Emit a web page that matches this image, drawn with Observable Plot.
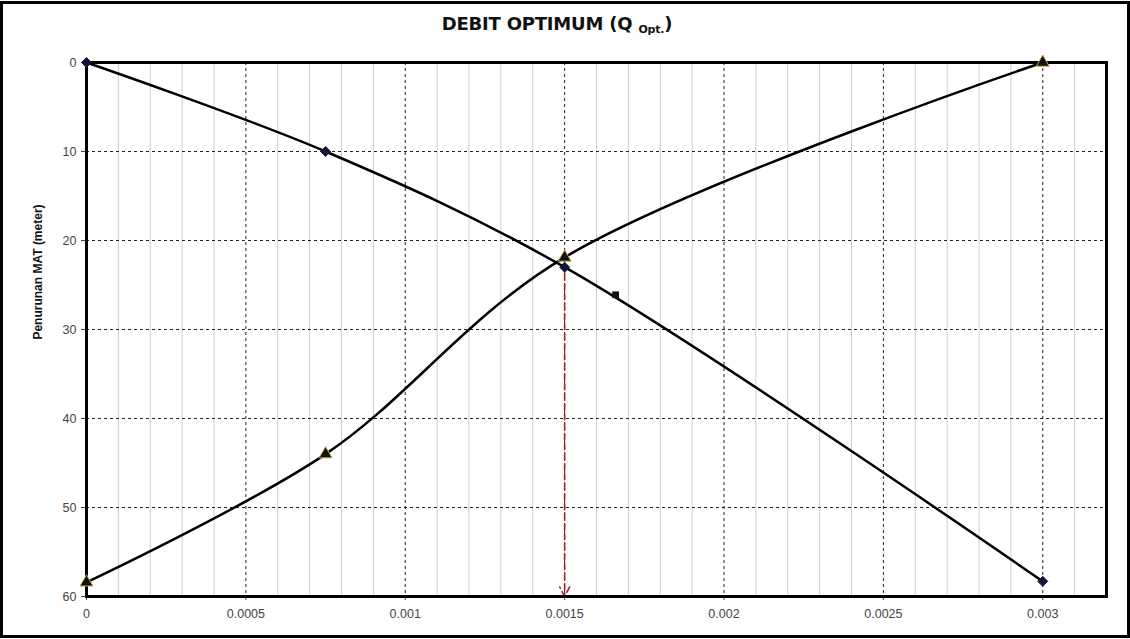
<!DOCTYPE html>
<html>
<head>
<meta charset="utf-8">
<script src="https://cdn.jsdelivr.net/npm/d3@7"></script>
<script src="https://cdn.jsdelivr.net/npm/@observablehq/plot@0.6"></script>
<style>
  html, body { margin: 0; padding: 0; background: #fff; }
  #wrap { position: relative; width: 1130px; height: 639px; overflow: hidden; background: #fff; }
  #border { position: absolute; left: 0; top: 1px; width: 1130px; height: 637px; box-sizing: border-box; border: 3px solid #000; pointer-events: none; }
  #title { position: absolute; left: 0; width: 1114px; top: 13px; text-align: center;
           font-family: "DejaVu Sans", Tahoma, sans-serif; font-weight: bold; font-size: 18px; color: #111; letter-spacing: -0.2px; }
  #title sub { font-size: 11px; vertical-align: -3px; }
  #ylabel { position: absolute; left: 38px; top: 272px; transform: translate(-50%, -50%) rotate(-90deg);
            white-space: nowrap; font-family: "Liberation Sans", Arial, sans-serif; font-weight: bold; font-size: 12px; color: #111; }
  #chart { position: absolute; left: 0; top: 0; }
</style>
</head>
<body>
<div id="wrap">
  <div id="chart"></div>
  <div id="title">DEBIT OPTIMUM (Q <sub>Opt.</sub>)</div>
  <div id="ylabel">Penurunan MAT (meter)</div>
  <div id="border"></div>
</div>
<script>
// ---- data ----
const debitQ = [0, 0.00075, 0.0015, 0.003];
const drawdownWell = [0, 10, 23, 58.3];        // diamonds
const drawdownAllowed = [58.4, 44, 21.9, 0];    // triangles
const extraPoint = [{x: 0.00166, y: 26.1}];     // small square marker
const optimum = [{x: 0.0015, y1: 22.6, y2: 60}]; // Q optimum arrow
const xTicks = [0, 0.0005, 0.001, 0.0015, 0.002, 0.0025, 0.003];
const xTickLabels = ["0", "0.0005", "0.001", "0.0015", "0.002", "0.0025", "0.003"];
const yTicks = [0, 10, 20, 30, 40, 50, 60];
const yGrid = [10, 20, 30, 40, 50];
const xMinor = [0.0001,0.0002,0.0003,0.0004,0.0006,0.0007,0.0008,0.0009,0.0011,0.0012,0.0013,0.0014,
                0.0016,0.0017,0.0018,0.0019,0.0021,0.0022,0.0023,0.0024,0.0026,0.0027,0.0028,0.0029,0.0031];
const xMajorGrid = [0.0005, 0.001, 0.0015, 0.002, 0.0025, 0.003];

const s1 = debitQ.map((x, i) => ({x, y: drawdownWell[i]}));
const s2 = debitQ.map((x, i) => ({x, y: drawdownAllowed[i]}));

const chart = Plot.plot({
  width: 1130,
  height: 639,
  marginLeft: 86,
  marginRight: 24,
  marginTop: 62,
  marginBottom: 43,
  style: {fontFamily: "'Liberation Sans', Arial, sans-serif", fontSize: "12.5px", background: "transparent"},
  x: {domain: [0, 0.0032]},
  y: {domain: [0, 60], reverse: true},
  marks: [
    Plot.ruleX(xMinor, {stroke: "#cfcfcf", strokeWidth: 1}),
    Plot.ruleX(xMajorGrid, {stroke: "#222", strokeWidth: 1, strokeDasharray: "3,3"}),
    Plot.ruleY(yGrid, {stroke: "#222", strokeWidth: 1, strokeDasharray: "3,3"}),
    Plot.axisX({ticks: xTicks, tickFormat: (d) => xTickLabels[xTicks.indexOf(d)], tickSize: 4, tickPadding: 9, label: null, color: "#444", fontSize: 12.5}),
    Plot.axisY({ticks: yTicks, tickSize: 5, tickPadding: 5, label: null, color: "#444", fontSize: 12.5}),
    Plot.arrow(optimum, {x1: "x", y1: "y1", x2: "x", y2: "y2", stroke: "#a8232a", strokeWidth: 1.6, strokeDasharray: "6,4", headLength: 10, headAngle: 55}),
    Plot.line(s1, {x: "x", y: "y", curve: "catmull-rom", stroke: "#000", strokeWidth: 2.5}),
    Plot.line(s2, {x: "x", y: "y", curve: "catmull-rom", stroke: "#000", strokeWidth: 2.5}),
    Plot.frame({stroke: "#000", strokeWidth: 3}),
    Plot.dot(s1, {x: "x", y: "y", symbol: "diamond2", fill: "#15153a", stroke: "#15153a", strokeWidth: 1, r: 4.5}),
    Plot.dot(s2, {x: "x", y: "y", symbol: "triangle", fill: "#111", stroke: "#c9a646", strokeWidth: 1, r: 4.8}),
    Plot.dot(extraPoint, {x: "x", y: "y", symbol: "square", fill: "#111", r: 3.8})
  ]
});
document.getElementById("chart").appendChild(chart);
</script>
</body>
</html>
